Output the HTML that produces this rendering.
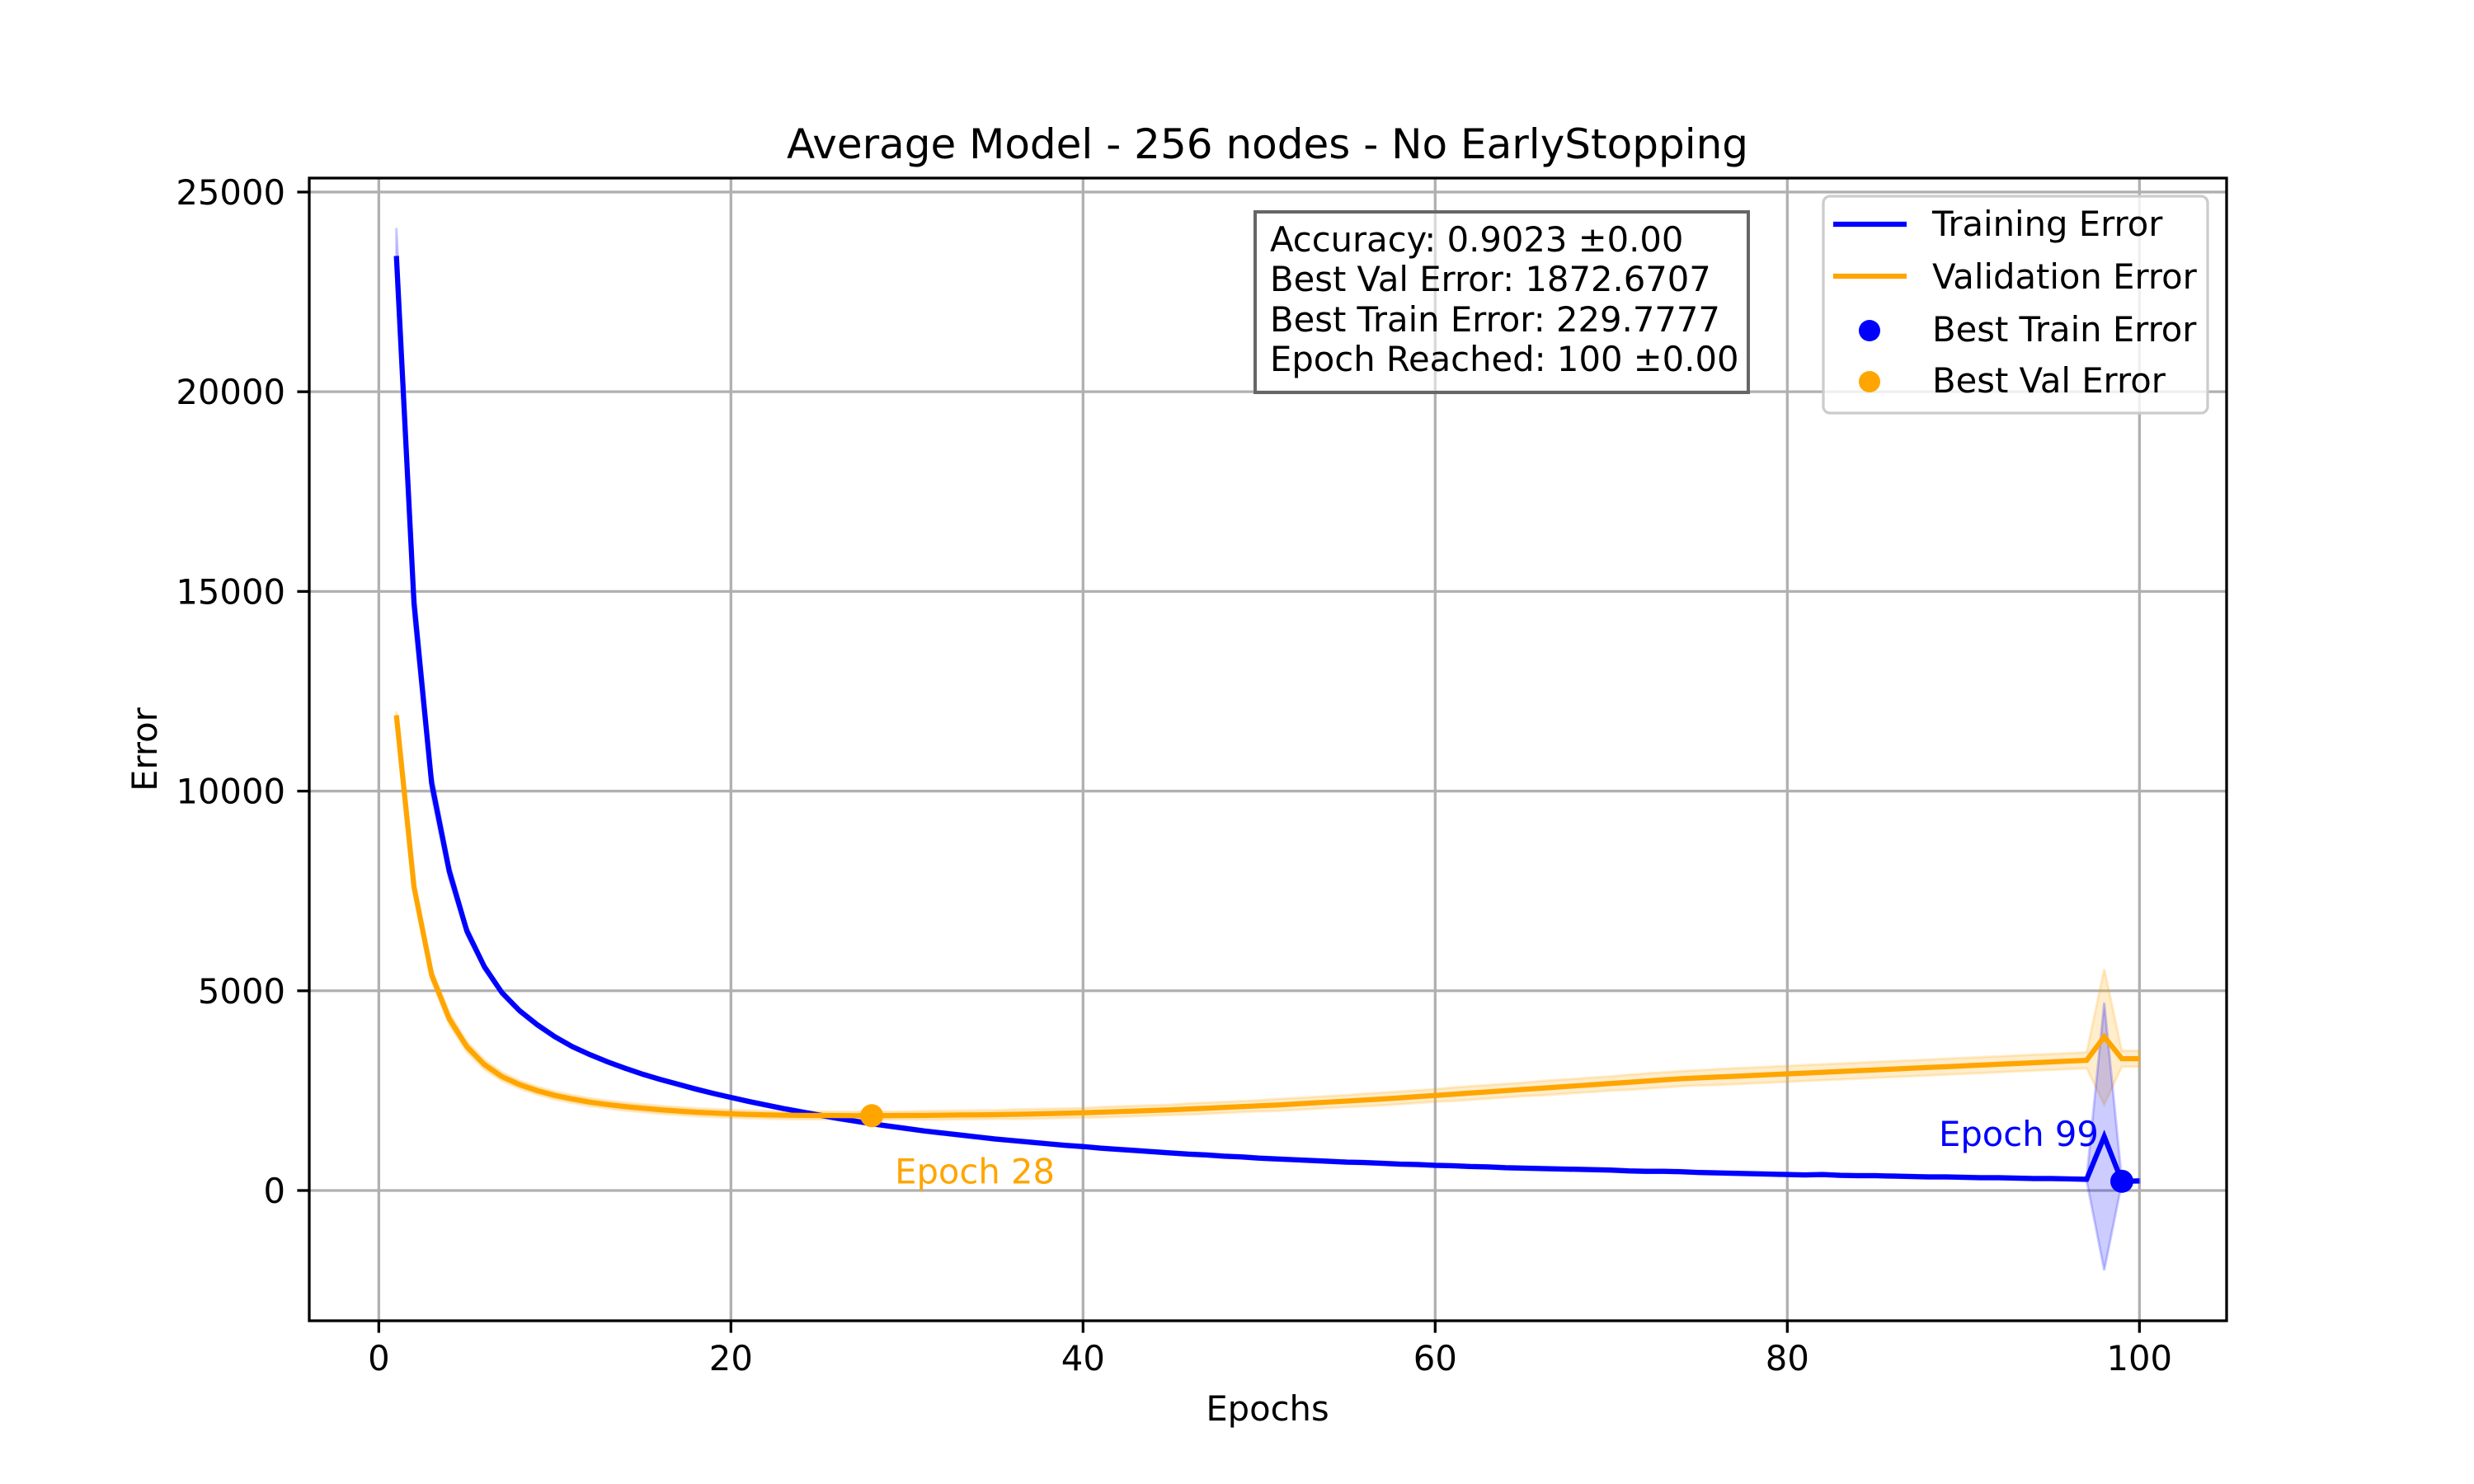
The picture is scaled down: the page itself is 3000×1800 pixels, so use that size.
<!DOCTYPE html>
<html><head><meta charset="utf-8"><style>
html,body{margin:0;padding:0;background:#fff}
svg{display:block;font-family:"DejaVu Sans","Liberation Sans",sans-serif}
</style></head><body>
<svg id="chart" width="3000" height="1800" viewBox="0 0 3000 1800" xmlns="http://www.w3.org/2000/svg">
<rect width="3000" height="1800" fill="#fff"/>
<g id="grid"></g>
<g id="series"></g>
<g id="axes"></g>
<text x="1537" y="192" font-size="50" text-anchor="middle">Average Model - 256 nodes - No EarlyStopping</text>
<text x="1537" y="1723" font-size="41.7" text-anchor="middle">Epochs</text>
<text x="190" y="909" font-size="41.7" text-anchor="middle" transform="rotate(-90 190 909)">Error</text>
<g>
<rect x="1522" y="257" width="598" height="219" fill="#fff" fill-opacity="0.5" stroke="#666" stroke-width="4"/>
<text x="1540" y="305" font-size="41.7">Accuracy: 0.9023 ±0.00</text>
<text x="1540" y="353" font-size="41.7">Best Val Error: 1872.6707</text>
<text x="1540" y="402" font-size="41.7">Best Train Error: 229.7777</text>
<text x="1540" y="450" font-size="41.7">Epoch Reached: 100 ±0.00</text>
</g>
<g>
<rect x="2211" y="238" width="466" height="263" rx="8" fill="#fff" fill-opacity="0.8" stroke="#ccc" stroke-width="3.3"/>
<line x1="2223" y1="272" x2="2312" y2="272" stroke="#0000ff" stroke-width="6.25"/>
<text x="2343" y="286" font-size="41.7">Training Error</text>
<line x1="2223" y1="335" x2="2312" y2="335" stroke="#ffa500" stroke-width="6.25"/>
<text x="2343" y="350" font-size="41.7">Validation Error</text>
<circle cx="2267" cy="401" r="13" fill="#0000ff"/>
<text x="2343" y="414" font-size="41.7">Best Train Error</text>
<circle cx="2267" cy="463" r="13" fill="#ffa500"/>
<text x="2343" y="476" font-size="41.7">Best Val Error</text>
</g>
</svg>
<script>
const trainErr=[23400,14700,10200,8000,6500,5600,4950,4500,4150,3850,
3600,3400,3220,3060,2910,2780,2660,2540,2430,2330,
2230,2140,2050,1970,1890,1810,1740,1670,1610,1550,
1490,1440,1390,1340,1290,1250,1210,1170,1130,1100,
1060,1030,1000,970,940,910,890,860,840,810,
790,770,750,730,710,700,680,660,650,630,
620,600,590,570,560,550,540,530,520,510,
490,480,480,470,450,440,430,420,410,400,
390,400,380,370,370,360,350,340,340,330,
320,320,310,300,300,290,280,1350,230,240];
const valErr=[11900,7600,5400,4300,3600,3150,2850,2650,2500,2380,
2290,2210,2150,2100,2060,2020,1990,1960,1940,1920,
1905,1895,1885,1880,1877,1875,1874,1873,1875,1878,
1882,1886,1890,1895,1900,1907,1915,1925,1935,1945,
1960,1975,1990,2005,2020,2040,2060,2080,2100,2120,
2140,2165,2190,2215,2240,2265,2290,2320,2350,2380,
2410,2440,2470,2500,2530,2560,2590,2620,2650,2680,
2710,2740,2770,2800,2820,2840,2860,2880,2900,2920,
2940,2960,2980,3000,3020,3040,3060,3080,3100,3120,
3140,3160,3180,3200,3220,3240,3260,3850,3300,3300];
const trainStd=[700,500,300,200,120,80,60,50,50,40,40,40,40,40,40,40,40,40,40,40,40,40,40,40,40,40,40,40,40,40,40,40,40,40,40,40,40,40,40,40,40,40,40,40,40,40,40,40,40,40,40,40,40,40,40,40,40,40,40,40,40,40,40,40,40,40,40,40,40,40,40,40,40,40,40,40,40,40,40,40,40,40,40,40,40,40,40,40,40,40,40,40,40,40,40,40,40,3350,40,40];
const valStd=[100,150,150,150,130,120,110,100,100,100,100,100,100,100,100,100,100,100,100,100,100,100,100,100,100,100,100,100,100,100,110,110,110,110,110,120,120,120,120,120,130,130,130,130,130,140,140,140,140,140,150,150,150,150,150,160,160,160,160,160,170,170,170,170,170,180,180,180,180,180,190,190,190,190,190,200,200,200,200,200,200,200,200,200,200,200,200,200,200,200,200,200,200,200,200,200,200,1700,200,200];
const xTicks=[0,20,40,60,80,100];
const yTicks=[0,5000,10000,15000,20000,25000];
const bestTrainEpoch=99, bestValEpoch=28;

const L=375,R=2700,T=216,B=1602;
const xMin=-3.95,xMax=104.95,yMin=-3262,yMax=25350;
const X=v=>L+(v-xMin)/(xMax-xMin)*(R-L);
const Y=v=>B-(v-yMin)/(yMax-yMin)*(B-T);
const NS='http://www.w3.org/2000/svg';
function mk(tag,attrs,parent){const e=document.createElementNS(NS,tag);for(const k in attrs)e.setAttribute(k,attrs[k]);parent.appendChild(e);return e;}
const grid=document.getElementById('grid'),series=document.getElementById('series'),axes=document.getElementById('axes');
xTicks.forEach(t=>{
 const g=mk('line',{x1:X(t),x2:X(t),y1:T,y2:B,stroke:'#b0b0b0','stroke-width':3.3},grid);
 
 
 const tk=mk('line',{x1:X(t),x2:X(t),y1:B,y2:B+14.6,stroke:'#000','stroke-width':3.3},axes);
 
 
 const tx=mk('text',{x:X(t),y:B+60,'font-size':41.7,'text-anchor':'middle'},axes);
 tx.textContent=t;
 
 
});
yTicks.forEach(t=>{
 const g=mk('line',{x1:L,x2:R,y1:Y(t),y2:Y(t),stroke:'#b0b0b0','stroke-width':3.3},grid);
 
 
 const tk=mk('line',{x1:L-14.6,x2:L,y1:Y(t),y2:Y(t),stroke:'#000','stroke-width':3.3},axes);
 
 
 const tx=mk('text',{x:L-29,y:Y(t)+15,'font-size':41.7,'text-anchor':'end'},axes);
 tx.textContent=t;
 
 
});
const fr=mk('rect',{x:L,y:T,width:R-L,height:B-T,fill:'none',stroke:'#000','stroke-width':3.3},axes);


function band(vals,std,color,name){
 let up=vals.map((v,i)=>X(i+1)+','+Y(v+std[i]));
 let dn=vals.map((v,i)=>X(i+1)+','+Y(v-std[i])).reverse();
 const p=mk('polygon',{points:up.concat(dn).join(' '),fill:color,'fill-opacity':0.2,stroke:color,'stroke-opacity':0.2,'stroke-width':3},series);
 
 
}
function line(vals,color,name){
 const p=mk('polyline',{points:vals.map((v,i)=>X(i+1)+','+Y(v)).join(' '),fill:'none',stroke:color,'stroke-width':6.25,'stroke-linejoin':'miter'},series);
 
 
}
band(valErr,valStd,'#ffa500','validation-band');
band(trainErr,trainStd,'#0000ff','training-band');
line(trainErr,'#0000ff','training-line');
line(valErr,'#ffa500','validation-line');
const c1=mk('circle',{cx:X(bestTrainEpoch),cy:Y(trainErr[bestTrainEpoch-1]),r:14,fill:'#0000ff'},series);


const c2=mk('circle',{cx:X(bestValEpoch),cy:Y(valErr[bestValEpoch-1]),r:14,fill:'#ffa500'},series);


const a1=mk('text',{x:X(bestTrainEpoch)-28,y:Y(trainErr[bestTrainEpoch-1])-43,'font-size':41.7,'text-anchor':'end',fill:'#0000ff'},series);
a1.textContent='Epoch '+bestTrainEpoch;


const a2=mk('text',{x:X(bestValEpoch)+28,y:Y(valErr[bestValEpoch-1])+82,'font-size':41.7,fill:'#ffa500'},series);
a2.textContent='Epoch '+bestValEpoch;


</script>
</body></html>
